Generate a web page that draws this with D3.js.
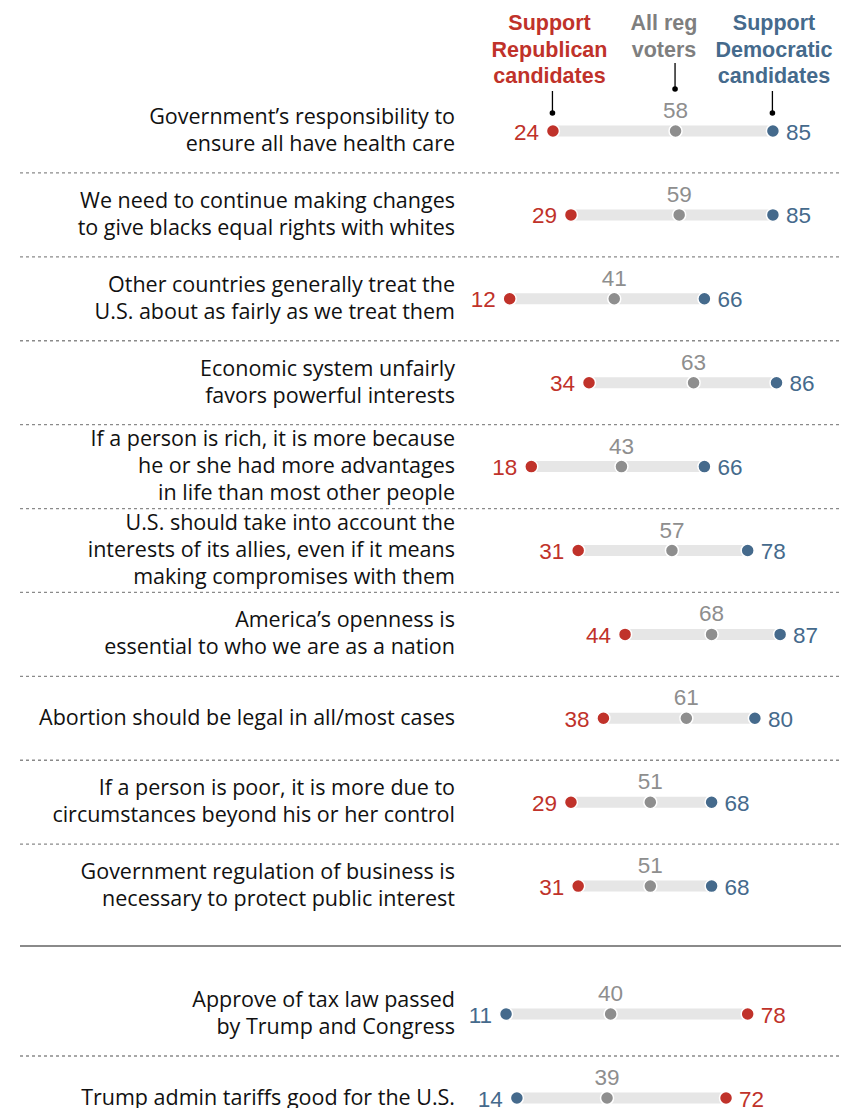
<!DOCTYPE html>
<html><head><meta charset="utf-8">
<script src="https://cdn.jsdelivr.net/npm/d3@7"></script>
<style>body{margin:0;background:#fff;} svg{display:block;}</style>
</head><body>
<svg id="c" width="841" height="1108"></svg>
<script>
const labels = [
  ["Government’s responsibility to","ensure all have health care"],
  ["We need to continue making changes","to give blacks equal rights with whites"],
  ["Other countries generally treat the","U.S. about as fairly as we treat them"],
  ["Economic system unfairly","favors powerful interests"],
  ["If a person is rich, it is more because","he or she had more advantages","in life than most other people"],
  ["U.S. should take into account the","interests of its allies, even if it means","making compromises with them"],
  ["America’s openness is","essential to who we are as a nation"],
  ["Abortion should be legal in all/most cases"],
  ["If a person is poor, it is more due to","circumstances beyond his or her control"],
  ["Government regulation of business is","necessary to protect public interest"],
  ["Approve of tax law passed","by Trump and Congress"],
  ["Trump admin tariffs good for the U.S."]
];
const repValues = [24,29,12,34,18,31,44,38,29,31,78,72];
const allValues = [58,59,41,63,43,57,68,61,51,51,40,39];
const demValues = [85,85,66,86,66,78,87,80,68,68,11,14];
const groupA = 10; // first 10 rows above solid divider

const RED="#c0322a", GRAY="#8e8e8e", BLUE="#456a8c";
const LFONT="'Open Sans', 'Liberation Sans', Arial, sans-serif";
const FONT="'Liberation Sans', Arial, sans-serif";
const svg=d3.select("#c");
const x=d3.scaleLinear().domain([0,100]).range([466.4,827]);
const rowY = i => i<groupA ? 131 + i*83.9 : 1014 + (i-groupA)*84;

// separators
const dashYs=[];
for(let i=0;i<groupA-1;i++) dashYs.push((rowY(i)+rowY(i+1))/2);
dashYs.push((rowY(10)+rowY(11))/2);
svg.selectAll("line.dash").data(dashYs).join("line")
  .attr("x1",20).attr("x2",841).attr("y1",d=>d).attr("y2",d=>d)
  .attr("stroke","#8a8a8a").attr("stroke-width",1.3).attr("stroke-dasharray","3,3");
svg.append("line").attr("x1",20).attr("x2",841).attr("y1",946).attr("y2",946)
  .attr("stroke","#8a8a8a").attr("stroke-width",2);

// header
const hdr=[
  {lines:["Support","Republican","candidates"],cx:549.5,color:RED},
  {lines:["All reg","voters"],cx:664,color:"#7f7f7f"},
  {lines:["Support","Democratic","candidates"],cx:774,color:BLUE}
];
hdr.forEach(h=>{
  const t=svg.append("text").attr("text-anchor","middle").attr("font-family",FONT)
    .attr("font-weight","bold").attr("font-size",21.5).attr("fill",h.color);
  h.lines.forEach((l,j)=>t.append("tspan").attr("x",h.cx).attr("y",30+j*26.5).text(l));
});
// pointers
const ptr=[{v:repValues[0],y1:91,y2:113},{v:allValues[0],y1:63,y2:89},{v:demValues[0],y1:91,y2:113}];
ptr.forEach(p=>{
  svg.append("line").attr("x1",x(p.v)-0.5).attr("x2",x(p.v)-0.5).attr("y1",p.y1).attr("y2",p.y2)
    .attr("stroke","#000").attr("stroke-width",1.3);
  svg.append("circle").attr("cx",x(p.v)-0.5).attr("cy",p.y2).attr("r",2.8).attr("fill","#000");
});

const rows=labels.map((l,i)=>({l,i,rep:repValues[i],all:allValues[i],dem:demValues[i],y:rowY(i)}));
const g=svg.selectAll("g.row").data(rows).join("g").attr("class","row");
// labels
g.each(function(d){
  const t=d3.select(this).append("text").attr("text-anchor","end").attr("font-family",LFONT)
    .attr("font-size",21.5).attr("fill","#111");
  const n=d.l.length;
  d.l.forEach((s,j)=>t.append("tspan").attr("x",455).attr("y",d.y+6.5+(j-(n-1)/2)*27).text(s));
});
// bars
g.append("line").attr("x1",d=>x(Math.min(d.rep,d.dem))).attr("x2",d=>x(Math.max(d.rep,d.dem)))
  .attr("y1",d=>d.y).attr("y2",d=>d.y).attr("stroke","#e6e6e6").attr("stroke-width",11);
// dots
[["rep",RED],["all",GRAY],["dem",BLUE]].forEach(([k,c])=>{
  g.append("circle").attr("cx",d=>x(d[k])).attr("cy",d=>d.y).attr("r",6.5)
    .attr("fill",c).attr("stroke","#fff").attr("stroke-width",1.5);
});
// value labels
g.append("text").attr("font-family",FONT).attr("font-size",22.5).attr("fill",GRAY)
  .attr("text-anchor","middle").attr("x",d=>x(d.all)).attr("y",d=>d.y-13).text(d=>d.all);
g.each(function(d){
  const sel=d3.select(this);
  const left = d.rep<d.dem ? {v:d.rep,c:RED} : {v:d.dem,c:BLUE};
  const right = d.rep<d.dem ? {v:d.dem,c:BLUE} : {v:d.rep,c:RED};
  sel.append("text").attr("font-family",FONT).attr("font-size",22.5).attr("fill",left.c)
    .attr("text-anchor","end").attr("x",x(left.v)-14).attr("y",d.y+8.5).text(left.v);
  sel.append("text").attr("font-family",FONT).attr("font-size",22.5).attr("fill",right.c)
    .attr("text-anchor","start").attr("x",x(right.v)+13).attr("y",d.y+8.5).text(right.v);
});
</script>
</body></html>
